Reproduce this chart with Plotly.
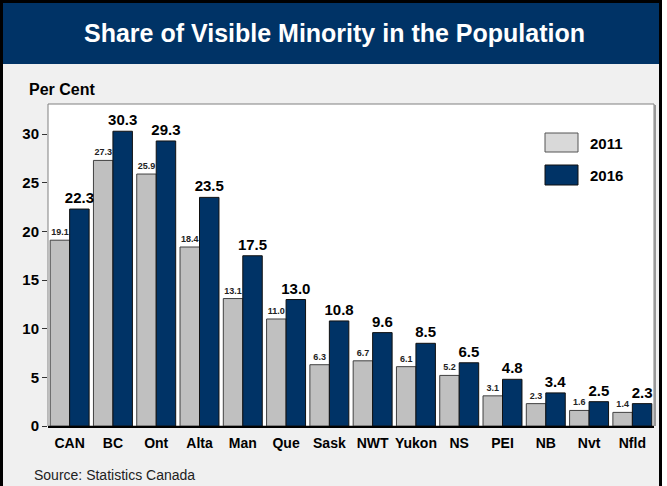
import plotly.graph_objects as go

categories = ["CAN", "BC", "Ont", "Alta", "Man", "Que", "Sask", "NWT", "Yukon", "NS", "PEI", "NB", "Nvt", "Nfld"]
values_2011 = [19.1, 27.3, 25.9, 18.4, 13.1, 11.0, 6.3, 6.7, 6.1, 5.2, 3.1, 2.3, 1.6, 1.4]
values_2016 = [22.3, 30.3, 29.3, 23.5, 17.5, 13.0, 10.8, 9.6, 8.5, 6.5, 4.8, 3.4, 2.5, 2.3]
series_names = ["2011", "2016"]
y_ticks = [0, 5, 10, 15, 20, 25, 30]

FONT = "Arial, Liberation Sans, sans-serif"
NAVY = "#003366"
GRAY = "#c0c0c0"

W, H = 667, 486
L, R, T, B = 48, 13, 104, 60
PW, PH = W - L - R, H - T - B


def xp(px):
    return (px - L) / PW


def yp(py):
    return (H - B - py) / PH


fig = go.Figure()
fig.add_trace(go.Bar(
    x=categories, y=values_2011, name=series_names[0],
    marker=dict(color=GRAY, line=dict(color="#404040", width=1)),
    texttemplate="%{y:.1f}", textposition="outside",
    textfont=dict(family=FONT, size=9, color="#222", weight="bold"),
    cliponaxis=False, constraintext="none",
))
fig.add_trace(go.Bar(
    x=categories, y=values_2016, name=series_names[1],
    marker=dict(color=NAVY, line=dict(color="#111111", width=1)),
    texttemplate="%{y:.1f}", textposition="outside",
    textfont=dict(family=FONT, size=15, color="#000", weight="bold"),
    cliponaxis=False, constraintext="none",
))

shapes = [
    # page background
    dict(type="rect", xref="paper", yref="paper", x0=xp(1.5), x1=xp(660.5), y0=yp(500), y1=yp(1.5),
         fillcolor="#f0f0f0", line=dict(width=0), layer="below"),
    # title banner
    dict(type="rect", xref="paper", yref="paper", x0=xp(1.5), x1=xp(660.5), y0=yp(64), y1=yp(1.5),
         fillcolor=NAVY, line=dict(width=0), layer="below"),
    # outer border
    dict(type="rect", xref="paper", yref="paper", x0=xp(1.5), x1=xp(660.5), y0=yp(500), y1=yp(1.5),
         fillcolor="rgba(0,0,0,0)", line=dict(color="#000", width=3), layer="below"),
    # plot area
    dict(type="rect", xref="paper", yref="paper", x0=0, x1=1, y0=0, y1=1,
         fillcolor="#ffffff", line=dict(color="#808080", width=1), layer="below"),
    dict(type="line", xref="paper", yref="paper", x0=xp(655), x1=xp(655), y0=0, y1=yp(105),
         line=dict(color="#999999", width=2), layer="below"),
    # legend swatches
    dict(type="rect", xref="paper", yref="paper", x0=xp(545), x1=xp(578), y0=yp(152), y1=yp(133),
         fillcolor="#d9d9d9", line=dict(color="#555", width=1)),
    dict(type="rect", xref="paper", yref="paper", x0=xp(545), x1=xp(578), y0=yp(185), y1=yp(165),
         fillcolor=NAVY, line=dict(color="#111", width=1)),
]

annotations = [
    dict(text="Share of Visible Minority in the Population", xref="paper", yref="paper",
         x=xp(334), y=yp(33), xanchor="center", yanchor="middle", showarrow=False,
         font=dict(family=FONT, size=25, color="white", weight="bold")),
    dict(text="Per Cent", xref="paper", yref="paper", x=xp(27), y=yp(89),
         xanchor="left", yanchor="middle", showarrow=False,
         font=dict(family=FONT, size=16, color="#000", weight="bold")),
    dict(text="Source: Statistics Canada", xref="paper", yref="paper", x=xp(32), y=yp(475),
         xanchor="left", yanchor="middle", showarrow=False,
         font=dict(family=FONT, size=14, color="#222")),
    dict(text=series_names[0], xref="paper", yref="paper", x=xp(588), y=yp(143),
         xanchor="left", yanchor="middle", showarrow=False,
         font=dict(family=FONT, size=15, color="#000", weight="bold")),
    dict(text=series_names[1], xref="paper", yref="paper", x=xp(588), y=yp(175),
         xanchor="left", yanchor="middle", showarrow=False,
         font=dict(family=FONT, size=15, color="#000", weight="bold")),
]

fig.update_layout(
    width=W, height=H,
    margin=dict(l=L, r=R, t=T, b=B, pad=0),
    paper_bgcolor="white", plot_bgcolor="white",
    barmode="group", bargap=0.1, bargroupgap=0,
    showlegend=False,
    shapes=shapes, annotations=annotations,
    font=dict(family=FONT),
    xaxis=dict(showgrid=False, showline=True, linecolor="#000", linewidth=2, ticks="",
               ticklabelstandoff=3,
               tickfont=dict(family=FONT, size=14, color="#000", weight="bold"), fixedrange=True),
    yaxis=dict(range=[0, 33.1], tickvals=y_ticks, showgrid=False, zeroline=False,
               showline=False, ticks="outside", ticklen=5, tickcolor="#333", tickwidth=1,
               tickfont=dict(family=FONT, size=15, color="#000", weight="bold"), fixedrange=True),
)

fig.write_html(
    "out.html",
    config={"displayModeBar": False},
    post_script="document.body.style.margin='0';document.body.style.overflow='hidden';",
)
